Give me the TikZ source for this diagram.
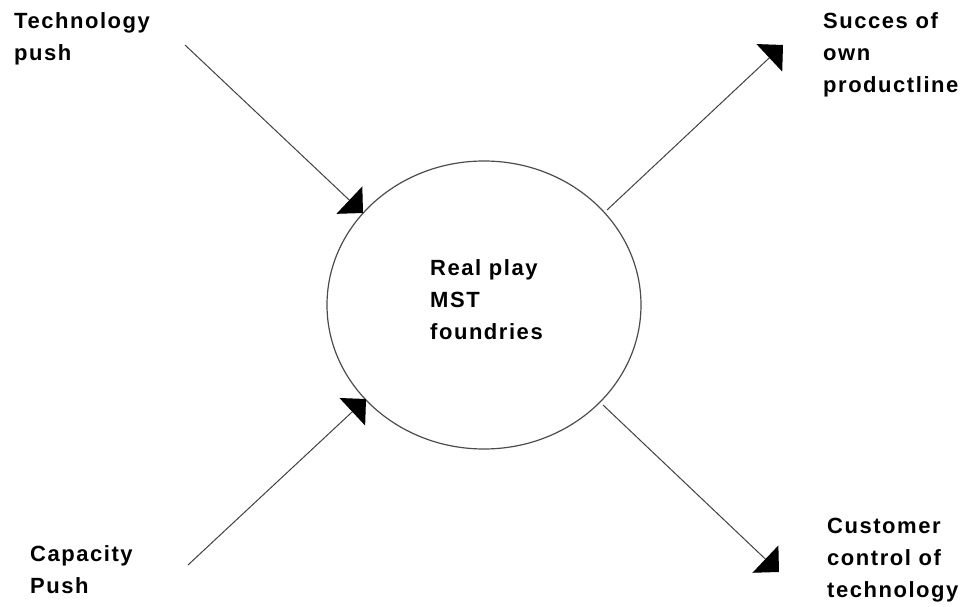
\documentclass[tikz,border=0pt]{standalone}
\usepackage{fontspec}
\setmainfont{Liberation Sans}[LetterSpace=7]
\usetikzlibrary{arrows.meta,shapes.geometric}
\begin{document}
\begin{tikzpicture}[x=1pt,y=-1pt,
  lbl/.style={inner sep=0pt,align=left,anchor=base west,font=\fontsize{22}{32}\selectfont\bfseries},
  flow/.style={draw=black!75,line width=1pt,-{Triangle[angle=90:26.5pt,color=black]}},
  hub/.style={ellipse,draw=black!70,line width=1.2pt,minimum width=314pt,minimum height=288pt,inner sep=0pt}]
\useasboundingbox (0,0) rectangle (962,607);
% hub
\node[hub] (c) at (484,305) {};
\node[lbl] (ctext) at (430,339) {Real play\\MST\\foundries};
% labels
\node[lbl] (tp) at (14,61) {Technology\\push};
\node[lbl] (cp) at (30,593) {Capacity\\Push};
\node[lbl] (sp) at (823,93) {Succes of\\own\\productline};
\node[lbl] (cc) at (827,597) {Customer\\control of\\technology};
% connector ends
\coordinate (a1s) at (185,45);
\coordinate (a1e) at (363,213);
\coordinate (a2s) at (188,565);
\coordinate (a2e) at (366,399);
\coordinate (a3s) at (607,210);
\coordinate (a3e) at (783,45);
\coordinate (a4s) at (603,405);
\coordinate (a4e) at (779,572);
\draw[flow] (a1s) -- (a1e);
\draw[flow] (a2s) -- (a2e);
\draw[flow] (a3s) -- (a3e);
\draw[flow] (a4s) -- (a4e);
\end{tikzpicture}
\end{document}
